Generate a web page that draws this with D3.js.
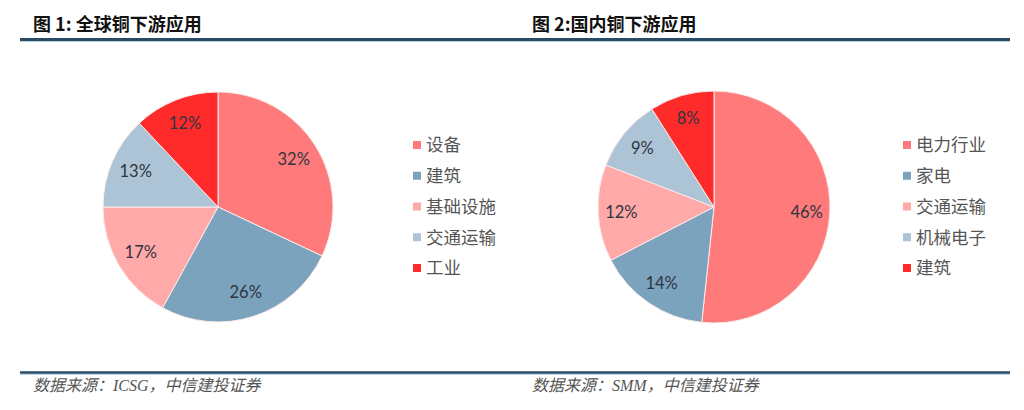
<!DOCTYPE html>
<html><head><meta charset="utf-8">
<script src="https://cdn.jsdelivr.net/npm/d3@7"></script>
<style>body{margin:0;background:#fff}svg{display:block}</style>
</head><body>
<svg id="c" width="1024" height="410"></svg>
<script>
const titles = ["图 1: 全球铜下游应用", "图 2:国内铜下游应用"];
const sources = ["数据来源：ICSG，中信建投证券", "数据来源：SMM，中信建投证券"];
const categories1 = ["设备", "建筑", "基础设施", "交通运输", "工业"];
const values1 = [32, 26, 17, 13, 12];
const categories2 = ["电力行业", "家电", "交通运输", "机械电子", "建筑"];
const values2 = [46, 14, 12, 9, 8];
const colors = ["#FF7B7B", "#7CA3BD", "#FFA9A9", "#ACC4D5", "#FF2B2B"];

const svg = d3.select("#c");
const panels = [
  {title: titles[0], source: sources[0], cats: categories1, vals: values1, tx: 33, cx: 218, cy: 207, r: 115, lr: 0.78, lx: 413},
  {title: titles[1], source: sources[1], cats: categories2, vals: values2, tx: 532, cx: 714, cy: 207, r: 116, lr: 0.8, lx: 903}
];

// header and footer rules
svg.append("line").attr("x1", 20).attr("x2", 1010).attr("y1", 39.5).attr("y2", 39.5)
  .attr("stroke", "#2a4b66").attr("stroke-width", 3);
svg.append("line").attr("x1", 20).attr("x2", 1010).attr("y1", 41.5).attr("y2", 41.5)
  .attr("stroke", "#b9d3e3").attr("stroke-width", 1);
svg.append("line").attr("x1", 20).attr("x2", 1010).attr("y1", 372.5).attr("y2", 372.5)
  .attr("stroke", "#2a4b66").attr("stroke-width", 2.5);
svg.append("line").attr("x1", 20).attr("x2", 1010).attr("y1", 374.5).attr("y2", 374.5)
  .attr("stroke", "#b9d3e3").attr("stroke-width", 1);

panels.forEach(p => {
  svg.append("text").attr("x", p.tx).attr("y", 31)
    .attr("font-family", "'Noto Sans CJK SC', sans-serif").attr("font-weight", "bold")
    .attr("font-size", 18).attr("fill", "#111").text(p.title);
  svg.append("text").attr("x", p.tx).attr("y", 391)
    .attr("font-family", "'Liberation Serif', 'Noto Sans CJK SC', serif").attr("font-style", "italic")
    .attr("font-size", 16).attr("fill", "#555").text(p.source);

  const pie = d3.pie().sort(null).value(d => d)(p.vals);
  const arc = d3.arc().innerRadius(0).outerRadius(p.r);
  const labelArc = d3.arc().innerRadius(p.r * p.lr).outerRadius(p.r * p.lr);
  const g = svg.append("g").attr("transform", `translate(${p.cx},${p.cy})`);
  g.selectAll("path").data(pie).join("path")
    .attr("d", arc).attr("fill", (d, i) => colors[i])
    .attr("stroke", "#fbeaea").attr("stroke-width", 1);
  g.selectAll("text").data(pie).join("text")
    .attr("transform", d => `translate(${labelArc.centroid(d)})`)
    .attr("text-anchor", "middle").attr("dy", "0.35em")
    .attr("font-family", "Lato, 'Open Sans', sans-serif").attr("font-size", 16.5)
    .attr("fill", "#2f3440").text(d => d.data + "%");

  const y = d3.scalePoint().domain(p.cats).range([145, 268]);
  const lg = svg.append("g");
  lg.selectAll("rect").data(p.cats).join("rect")
    .attr("x", p.lx).attr("y", d => y(d) - 4).attr("width", 8).attr("height", 8)
    .attr("fill", (d, i) => colors[i]);
  lg.selectAll("text").data(p.cats).join("text")
    .attr("x", p.lx + 13).attr("y", d => y(d)).attr("dy", "0.36em")
    .attr("font-family", "'Noto Sans CJK SC', sans-serif").attr("font-size", 17.5)
    .attr("fill", "#555").text(d => d);
});
</script>
</body></html>
